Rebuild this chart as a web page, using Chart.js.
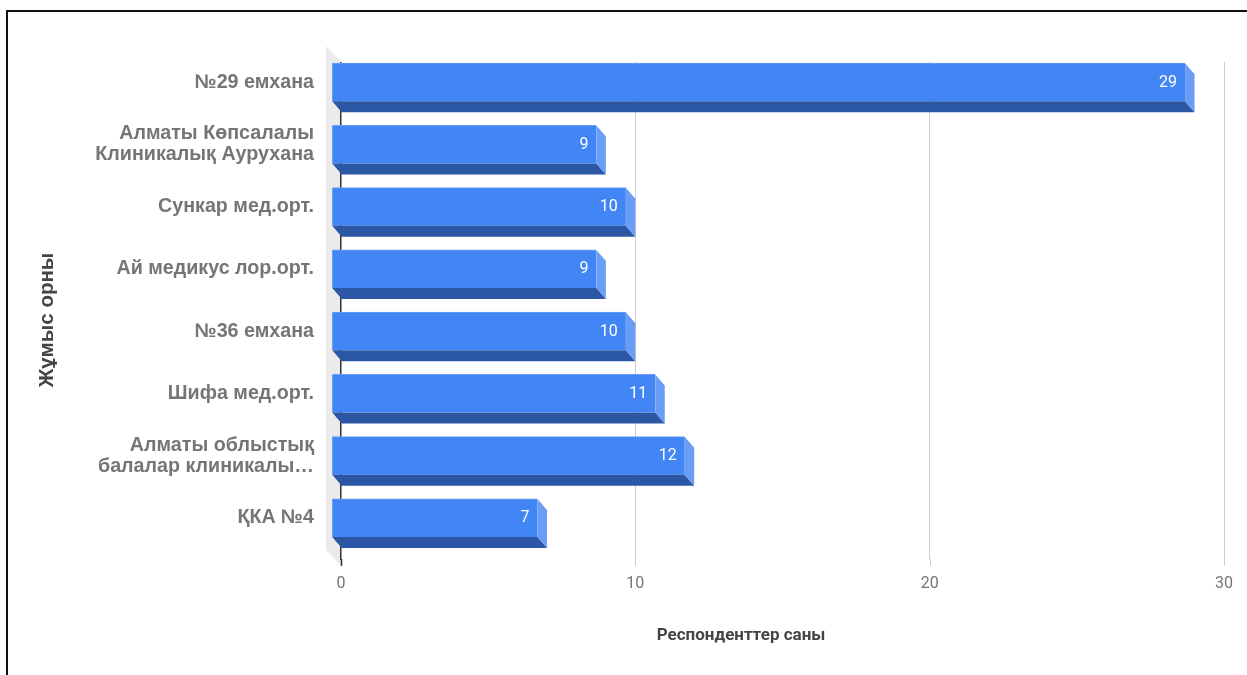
<!DOCTYPE html>
<html>
<head>
<meta charset="utf-8">
<script src="https://cdn.jsdelivr.net/npm/chart.js@4/dist/chart.umd.min.js"></script>
<style>
html,body{margin:0;padding:0;background:#fff;}
#wrap{position:relative;width:1247px;height:675px;}
#frame{position:absolute;left:6px;top:10px;width:1260px;height:700px;border-top:2px solid #111;border-left:2px solid #111;pointer-events:none;}
canvas{position:absolute;left:0;top:0;}
</style>
</head>
<body>
<div id="wrap">
<canvas id="c" width="1247" height="675"></canvas>
<div id="frame"></div>
</div>
<script>
const categories = [
  '№29 емхана',
  ['Алматы Көпсалалы', 'Клиникалық Аурухана'],
  'Сункар мед.орт.',
  'Ай медикус лор.орт.',
  '№36 емхана',
  'Шифа мед.орт.',
  ['Алматы облыстық', 'балалар клиникалы…'],
  'ҚКА №4'
];
const respondents = [29, 9, 10, 9, 10, 11, 12, 7];
const xTicks = [0, 10, 20, 30];
const xTitle = 'Респонденттер саны';
const yTitle = 'Жұмыс орны';

const DX = 9.5, DY = 11, EXT = 6;
const FRONT = '#4285f4', BOTTOM = '#2b57a5', SIDE = '#6a9ef6';

const threeD = {
  id: 'threeD',
  beforeDraw(chart) {
    const ctx = chart.ctx, a = chart.chartArea;
    ctx.save();
    ctx.fillStyle = '#ebebeb';
    ctx.beginPath();
    ctx.moveTo(a.left - 15, a.top - 16);
    ctx.lineTo(a.left, a.top);
    ctx.lineTo(a.left, a.bottom + EXT);
    ctx.lineTo(a.left - 15, a.bottom + EXT - 16);
    ctx.closePath();
    ctx.fill();
    ctx.restore();
  },
  beforeDatasetsDraw(chart) {
    const ctx = chart.ctx, a = chart.chartArea, xs = chart.scales.x;
    ctx.save();
    xTicks.forEach(v => {
      const px = Math.round(xs.getPixelForValue(v)) + 0.5;
      ctx.strokeStyle = v === 0 ? '#333333' : '#cccccc';
      ctx.lineWidth = v === 0 ? 1.5 : 1;
      ctx.beginPath();
      ctx.moveTo(px, a.bottom - 1);
      ctx.lineTo(px, a.bottom + EXT);
      ctx.stroke();
    });
    ctx.restore();
    ctx.save();
    ctx.translate(-DX, -DY);
  },
  afterDatasetsDraw(chart) {
    const ctx = chart.ctx;
    ctx.restore();
    const meta = chart.getDatasetMeta(0);
    ctx.save();
    meta.data.forEach((bar, i) => {
      const p = bar.getProps(['x', 'y', 'base', 'height'], true);
      const yt = p.y - p.height / 2, yb = p.y + p.height / 2;
      ctx.fillStyle = BOTTOM;
      ctx.beginPath();
      ctx.moveTo(p.base - DX, yb - DY);
      ctx.lineTo(p.x - DX, yb - DY);
      ctx.lineTo(p.x, yb);
      ctx.lineTo(p.base, yb);
      ctx.closePath();
      ctx.fill();
      ctx.fillStyle = SIDE;
      ctx.beginPath();
      ctx.moveTo(p.x - DX, yt - DY);
      ctx.lineTo(p.x, yt);
      ctx.lineTo(p.x, yb);
      ctx.lineTo(p.x - DX, yb - DY);
      ctx.closePath();
      ctx.fill();
      ctx.fillStyle = '#ffffff';
      ctx.font = '16px Roboto';
      ctx.textAlign = 'right';
      ctx.textBaseline = 'middle';
      ctx.fillText(String(respondents[i]), p.x - DX - 8, p.y - DY + 0.5);
    });
    ctx.restore();
  },
  afterDraw(chart) {
    const ctx = chart.ctx;
    ctx.save();
    ctx.fillStyle = '#444444';
    ctx.textAlign = 'center';
    ctx.textBaseline = 'middle';
    ctx.font = 'bold 17px Roboto';
    ctx.fillText(xTitle, 741, 636);
    ctx.translate(47, 320);
    ctx.rotate(-Math.PI / 2);
    ctx.font = 'bold 20.5px "Liberation Sans"';
    ctx.fillText(yTitle, 0, 0);
    ctx.restore();
  }
};

new Chart(document.getElementById('c'), {
  type: 'bar',
  data: {
    labels: categories,
    datasets: [{
      data: respondents,
      backgroundColor: FRONT,
      borderColor: '#6a9ef6',
      borderWidth: {top: 1, left: 0, right: 0, bottom: 0},
      borderSkipped: false,
      barThickness: 38,
      clip: false
    }]
  },
  options: {
    indexAxis: 'y',
    responsive: false,
    animation: false,
    layout: {padding: {top: 62, right: 21, bottom: 0, left: 0}},
    plugins: {legend: {display: false}, tooltip: {enabled: false}},
    scales: {
      x: {
        type: 'linear', min: 0, max: 30,
        afterBuildTicks(scale) { scale.ticks = xTicks.map(v => ({value: v})); },
        afterFit(scale) { scale.height = 675 - 560; },
        ticks: {color: '#757575', font: {family: 'Roboto', size: 16}, padding: 14},
        grid: {
          color: c => (c.tick && c.tick.value === 0) ? '#333333' : '#cccccc',
          lineWidth: c => (c.tick && c.tick.value === 0) ? 1.5 : 1,
          drawTicks: false
        },
        border: {display: false}
      },
      y: {
        type: 'category',
        afterFit(scale) { scale.width = 341; },
        ticks: {
          color: '#757575',
          font: {family: 'Liberation Sans', size: 19.7, weight: 'bold', lineHeight: 1.07},
          padding: 27,
          labelOffset: -11,
          autoSkip: false
        },
        grid: {display: false, drawTicks: false},
        border: {display: false}
      }
    }
  },
  plugins: [threeD]
});
</script>
</body>
</html>
